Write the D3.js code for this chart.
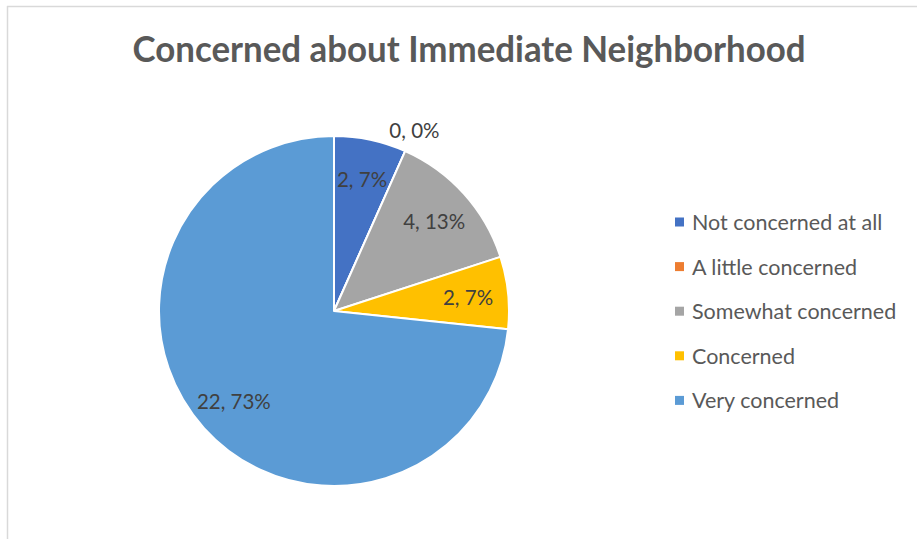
<!DOCTYPE html>
<html>
<head>
<meta charset="utf-8">
<script src="https://cdn.jsdelivr.net/npm/d3@7"></script>
<style>
  html, body { margin: 0; padding: 0; background: #fff; }
  svg { display: block; }
</style>
</head>
<body>
<svg id="chart" width="917" height="539"></svg>
<script>
// Survey responses: how concerned respondents are about their immediate neighborhood
const chartTitle = "Concerned about Immediate Neighborhood";
const categories = ["Not concerned at all", "A little concerned", "Somewhat concerned", "Concerned", "Very concerned"];
const counts = [2, 0, 4, 2, 22];
const colors = ["#4472C4", "#ED7D31", "#A5A5A5", "#FFC000", "#5B9BD5"];

const W = 917, H = 539;
const cx = 334, cy = 311, R = 175;
const font = "Lato, 'Open Sans', sans-serif";

const svg = d3.select("#chart");

// chart area frame (top and left edges visible)
svg.append("line").attr("x1", 7).attr("y1", 6.5).attr("x2", W).attr("y2", 6.5)
  .attr("stroke", "#d9d9d9").attr("stroke-width", 1.5);
svg.append("line").attr("x1", 7.5).attr("y1", 6).attr("x2", 7.5).attr("y2", H)
  .attr("stroke", "#d9d9d9").attr("stroke-width", 1.5);

// title
svg.append("text")
  .attr("x", 469).attr("y", 62)
  .attr("text-anchor", "middle")
  .attr("font-family", font).attr("font-weight", 700).attr("font-size", 36)
  .attr("fill", "#595959")
  .attr("textLength", 673).attr("lengthAdjust", "spacingAndGlyphs")
  .text(chartTitle);

const total = d3.sum(counts);
const data = categories.map((c, i) => ({ category: c, value: counts[i], color: colors[i] }));

const pie = d3.pie().value(d => d.value).sort(null);
const arcs = pie(data);

const arc = d3.arc().innerRadius(0).outerRadius(R);
const labelArc = d3.arc().innerRadius(R * 1.54).outerRadius(R * 1.54);

const g = svg.append("g").attr("transform", `translate(${cx},${cy})`);

g.selectAll("path.slice")
  .data(arcs)
  .join("path")
  .attr("class", "slice")
  .attr("d", arc)
  .attr("fill", d => d.data.color)
  .attr("stroke", "#fff")
  .attr("stroke-width", 2)
  .attr("stroke-linejoin", "round");

// data labels "value, percent": inside the slice, or just outside the rim for empty slices
g.selectAll("text.label")
  .data(arcs)
  .join("text")
  .attr("class", "label")
  .attr("transform", d => {
    if (d.data.value === 0) {
      const a = d.startAngle;
      return `translate(${Math.sin(a) * R * 1.13},${-Math.cos(a) * R * 1.13})`;
    }
    const [x, y] = labelArc.centroid(d);
    return `translate(${x / 2},${y / 2})`;
  })
  .attr("text-anchor", "middle")
  .attr("dominant-baseline", "central")
  .attr("font-family", font).attr("font-size", 20.5)
  .attr("fill", "#404040")
  .text(d => `${d.data.value}, ${Math.round(d.data.value / total * 100)}%`);

// legend
const legend = svg.append("g").attr("transform", "translate(675,222)");
const item = legend.selectAll("g.item")
  .data(data)
  .join("g")
  .attr("class", "item")
  .attr("transform", (d, i) => `translate(0,${i * 44.6})`);
item.append("rect")
  .attr("x", 0).attr("y", -4.5)
  .attr("width", 9).attr("height", 9)
  .attr("fill", d => d.color);
item.append("text")
  .attr("x", 17).attr("y", 0)
  .attr("dominant-baseline", "central")
  .attr("font-family", font).attr("font-size", 21.5)
  .attr("fill", "#595959")
  .text(d => d.category);
</script>
</body>
</html>
